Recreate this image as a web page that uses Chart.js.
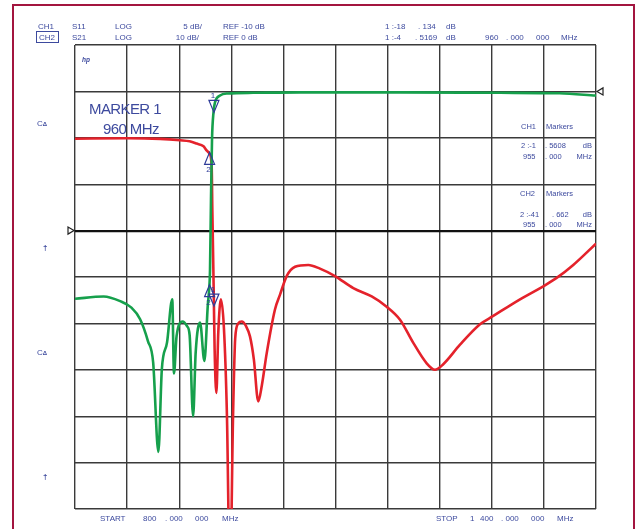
<!DOCTYPE html>
<html>
<head>
<meta charset="utf-8">
<script src="https://cdn.jsdelivr.net/npm/chart.js@4.4.1/dist/chart.umd.min.js"></script>
<style>
  html, body { margin: 0; padding: 0; background: #fff; }
  #wrap { position: relative; width: 638px; height: 529px; overflow: hidden; font-family: "Liberation Sans", Arial, sans-serif; }
  #frame { position: absolute; left: 12px; top: 4px; width: 619px; height: 600px; border: 2px solid #a3153f; }
  canvas { position: absolute; left: 0; top: 0; }
  .t { position: absolute; color: #3d4a9e; line-height: 1; white-space: nowrap; }
  .box { border: 1px solid #3d4a9e; padding: 1px 3px 0 2px; margin-left: -3px; }
</style>
</head>
<body>
<div id="wrap">
  <div id="frame"></div>
  <canvas id="vna" width="638" height="529"></canvas>
</div>
<script>
// sweep 800 - 1400 MHz
const startMHz = 800;
const stopMHz = 1400;

// CH1 = S11, 5 dB/div, REF -10 dB ; CH2 = S21, 10 dB/div, REF 0 dB
const ch1Ref = -10;
const ch2Ref = 0;

// S21 (green)
const s21Freq = [800, 833, 852, 865, 875, 884, 890, 896, 900, 906, 912, 914, 917, 924, 929, 932, 936, 939, 944, 949, 953, 954.3, 955.5, 956.6, 957.8, 959.5, 961.2, 967, 976, 1005, 1060, 1175, 1290, 1358, 1400];
const s21Db = [-44.7, -44.2, -45.2, -46.6, -49.1, -53.8, -58.4, -77.7, -59.9, -54.1, -44.8, -60.8, -52.7, -49.6, -50.6, -52.5, -70.0, -56.2, -49.8, -58.1, -45.9, -43.1, -38.4, -23.3, -10.3, -4.5, -2.4, -0.9, -0.45, -0.3, -0.2, -0.2, -0.3, -0.4, -0.9];

// S11 (red)
const s11Freq = [800, 860, 898, 921, 932, 940, 948, 952, 955, 957.4, 958.2, 959.3, 960, 960.8, 962.8, 965, 968, 971.5, 975, 978.5, 982, 984.5, 988, 992, 997, 1001.5, 1006, 1011, 1015.3, 1020.8, 1030.3, 1036.1, 1043.8, 1053.4, 1068.7, 1082.1, 1099.4, 1120.5, 1141.7, 1158.9, 1174.3, 1189.6, 1205, 1214.6, 1224.1, 1243.4, 1266.4, 1281.7, 1312.5, 1339.3, 1354.7, 1373.8, 1400];
const s11Db = [-0.1, -0.05, -0.12, -0.27, -0.38, -0.62, -0.92, -1.4, -1.7, -3.1, -8, -14, -18.1, -22.8, -27.5, -21, -17.4, -20.5, -30, -48, -30, -21.6, -20, -19.8, -20.3, -21.4, -23.9, -28.4, -26.6, -23.2, -18.5, -16.9, -14.9, -13.9, -13.7, -14.1, -14.9, -16.2, -17.1, -18.2, -19.6, -22.1, -24.3, -25.0, -24.4, -22.3, -20.1, -19.2, -17.4, -16.0, -15.1, -13.7, -11.4];

// markers 1 and 2
const markerFreq = [960, 955];
const ch1Marker = [-18.134, -1.5608];
const ch2Marker = [-4.5169, -41.662];

const toPoints = (xs, ys) => xs.map((f, i) => ({ x: f, y: ys[i] }));

// text annotations (screen layout)
const labels = [
  ['CH1', 38, 27], ['S11', 72, 27], ['LOG', 115, 27], ['5 dB/', 202, 27, 8, 'r'], ['REF -10 dB', 223, 27],
  ['1 :-18', 385, 27], ['. 134', 418, 27], ['dB', 446, 27],
  ['<span class="box">CH2</span>', 39, 38], ['S21', 72, 38], ['LOG', 115, 38], ['10 dB/', 199, 38, 8, 'r'], ['REF 0 dB', 223, 38],
  ['1 :-4', 385, 38], ['. 5169', 415, 38], ['dB', 446, 38],
  ['960', 485, 38], ['. 000', 506, 38], ['000', 536, 38], ['MHz', 561, 38],
  ['CH1', 521, 127, 7.5], ['Markers', 546, 127, 7.5],
  ['2 :-1', 521, 146, 7.5], ['. 5608', 545, 146, 7.5], ['dB', 592, 146, 7.5, 'r'],
  ['955', 523, 157, 7.5], ['. 000', 545, 157, 7.5], ['MHz', 592, 157, 7.5, 'r'],
  ['CH2', 520, 194, 7.5], ['Markers', 546, 194, 7.5],
  ['2 :-41', 520, 215, 7.5], ['. 662', 552, 215, 7.5], ['dB', 592, 215, 7.5, 'r'],
  ['955', 523, 225, 7.5], ['. 000', 545, 225, 7.5], ['MHz', 592, 225, 7.5, 'r'],
  ['START', 100, 519], ['800', 143, 519], ['. 000', 165, 519], ['000', 195, 519], ['MHz', 222, 519],
  ['STOP', 436, 519], ['1', 470, 519], ['400', 480, 519], ['. 000', 501, 519], ['000', 531, 519], ['MHz', 557, 519],
  ['C<span style="font-size:6px;font-weight:bold">&Delta;</span>', 37, 124], ['C<span style="font-size:6px;font-weight:bold">&Delta;</span>', 37, 353],
  ['<b>&dagger;</b>', 43, 248], ['<b>&dagger;</b>', 43, 477],
  ['<i><b>hp</b></i>', 82, 60, 6.5],
  ['MARKER 1', 89, 108, 15], ['960 MHz', 103, 128, 15]
];

const wrap = document.getElementById('wrap');
labels.forEach(([txt, x, y, size = 8, align]) => {
  const el = document.createElement('div');
  el.className = 't';
  el.innerHTML = txt;
  el.style.fontSize = size + 'px';
  if (size > 12) el.style.letterSpacing = '-0.6px';
  el.style.top = (y - size / 2) + 'px';
  if (align === 'r') el.style.right = (638 - x) + 'px';
  else el.style.left = x + 'px';
  wrap.appendChild(el);
});

// reference pointers and marker triangles
const vnaMarks = {
  id: 'vnaMarks',
  afterDatasetsDraw(chart) {
    const { ctx, chartArea, scales } = chart;
    const x = scales.x, y1 = scales.y, y2 = scales.y2;
    ctx.save();

    ctx.strokeStyle = '#222';
    ctx.lineWidth = 1.2;
    const r1 = y1.getPixelForValue(ch1Ref);
    ctx.beginPath();
    ctx.moveTo(chartArea.left - 7, r1 - 3.5);
    ctx.lineTo(chartArea.left - 7, r1 + 3.5);
    ctx.lineTo(chartArea.left - 1, r1);
    ctx.closePath();
    ctx.stroke();
    const r2 = y2.getPixelForValue(ch2Ref);
    ctx.beginPath();
    ctx.moveTo(chartArea.right + 7, r2 - 3.5);
    ctx.lineTo(chartArea.right + 7, r2 + 3.5);
    ctx.lineTo(chartArea.right + 1, r2);
    ctx.closePath();
    ctx.stroke();

    ctx.strokeStyle = '#2e3b98';
    ctx.fillStyle = '#2e3b98';
    ctx.lineWidth = 1.2;
    ctx.font = '8px "Liberation Sans", Arial';
    ctx.textAlign = 'center';
    markerFreq.forEach((f, i) => {
      const px = x.getPixelForValue(f);
      [y1.getPixelForValue(ch1Marker[i]), y2.getPixelForValue(ch2Marker[i])].forEach(py => {
        const dir = i === 0 ? -1 : 1; // marker 1 points down, marker 2 points up
        ctx.beginPath();
        ctx.moveTo(px, py);
        ctx.lineTo(px - 5, py + dir * 12);
        ctx.lineTo(px + 5, py + dir * 12);
        ctx.closePath();
        ctx.stroke();
        ctx.fillText(String(i + 1), px - 1, py + dir * 12 + (dir < 0 ? -2 : 8));
      });
    });
    ctx.restore();
  }
};

new Chart(document.getElementById('vna'), {
  type: 'line',
  data: {
    datasets: [
      {
        label: 'S21',
        data: toPoints(s21Freq, s21Db),
        yAxisID: 'y2',
        borderColor: '#16a04c',
        borderWidth: 2.6,
        pointRadius: 0,
        cubicInterpolationMode: 'monotone'
      },
      {
        label: 'S11',
        data: toPoints(s11Freq, s11Db),
        yAxisID: 'y',
        borderColor: '#e4222b',
        borderWidth: 2.6,
        pointRadius: 0,
        cubicInterpolationMode: 'monotone'
      }
    ]
  },
  options: {
    responsive: false,
    animation: false,
    devicePixelRatio: 1,
    layout: { padding: { left: 75, top: 45, right: 42, bottom: 20 } },
    plugins: { legend: { display: false }, tooltip: { enabled: false } },
    scales: {
      x: {
        type: 'linear',
        min: startMHz,
        max: stopMHz,
        afterFit: s => { s.height = 0; },
        ticks: { display: false, stepSize: 60 },
        border: { display: false },
        grid: { color: '#3a3a3a', lineWidth: 1.4, drawTicks: false }
      },
      y: {
        min: -40,
        max: 10,
        afterFit: s => { s.width = 0; },
        ticks: { display: false, stepSize: 5 },
        border: { display: false },
        grid: {
          drawTicks: false,
          color: ctx => (ctx.tick && ctx.tick.value === ch1Ref) ? '#111' : '#3a3a3a',
          lineWidth: ctx => (ctx.tick && ctx.tick.value === ch1Ref) ? 2.2 : 1.4
        }
      },
      y2: {
        display: false,
        min: -90,
        max: 10
      }
    }
  },
  plugins: [vnaMarks]
});
</script>
</body>
</html>
